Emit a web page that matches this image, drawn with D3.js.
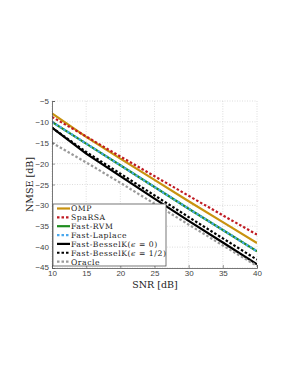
<!DOCTYPE html>
<html><head><meta charset="utf-8">
<script src="https://cdn.jsdelivr.net/npm/d3@7"></script>
<style>body{margin:0;background:#fff}svg{display:block}</style>
</head><body>
<script>
const snr = [10, 15, 20, 25, 30, 35, 40];
const omp = [-8, -13.6, -18.8, -23.9, -29, -34, -39];
const sparsa = [-8.8, -13.5, -18.3, -23, -27.7, -32.4, -37];
const fastRvm = [-10, -15.2, -20.4, -25.6, -30.8, -35.9, -41];
const fastLaplace = [-10, -15.2, -20.4, -25.6, -30.8, -35.9, -41];
const besselK0 = [-11.4, -17.6, -23, -28.4, -33.7, -38.9, -44.1];
const besselKHalf = [-11.4, -17.2, -22.4, -27.6, -32.8, -37.9, -43];
const oracle = [-15, -19.7, -24.6, -29.6, -34.6, -39.6, -44.5];
const xTicks = [10, 15, 20, 25, 30, 35, 40];
const yTicks = [-5, -10, -15, -20, -25, -30, -35, -40, -45];

const series = [
  {name: "OMP", vals: omp, color: "#C8920F", dash: null, w: 2.2},
  {name: "SpaRSA", vals: sparsa, color: "#C01A22", dash: "2.5,2", w: 2.2},
  {name: "Fast-RVM", vals: fastRvm, color: "#1E8C1E", dash: null, w: 2.2},
  {name: "Fast-Laplace", vals: fastLaplace, color: "#4AA8EE", dash: "2.5,2", w: 2.2},
  {name: "Fast-BesselK", eps: "0", vals: besselK0, color: "#000000", dash: null, w: 2.2},
  {name: "Fast-BesselK", eps: "1/2", vals: besselKHalf, color: "#000000", dash: "2.5,2", w: 2.2},
  {name: "Oracle", vals: oracle, color: "#9a9a9a", dash: "2.5,2", w: 2.2}
];

const W = 291, H = 376;
const svg = d3.select("body").append("svg").attr("width", W).attr("height", H);
const L = 52, R = 257, T = 101, B = 268;
const x = d3.scaleLinear().domain([10, 40]).range([L, R]);
const y = d3.scaleLinear().domain([-45, -5]).range([B, T]);

// grid
const g = svg.append("g");
g.selectAll(".gx").data(xTicks).enter().append("line")
  .attr("x1", d => x(d)).attr("x2", d => x(d)).attr("y1", T).attr("y2", B)
  .attr("stroke", "#d4d4d4").attr("stroke-width", 0.8).attr("stroke-dasharray", "1,1.5");
g.selectAll(".gy").data(yTicks).enter().append("line")
  .attr("y1", d => y(d)).attr("y2", d => y(d)).attr("x1", L).attr("x2", R)
  .attr("stroke", "#d4d4d4").attr("stroke-width", 0.8).attr("stroke-dasharray", "1,1.5");

// lines
const line = d3.line().x((d, i) => x(snr[i])).y(d => y(d));
svg.append("clipPath").attr("id", "c").append("rect")
  .attr("x", L).attr("y", T).attr("width", R - L).attr("height", B - T);
const lg = svg.append("g").attr("clip-path", "url(#c)");
series.forEach(s => {
  lg.append("path").attr("d", line(s.vals)).attr("fill", "none")
    .attr("stroke", s.color).attr("stroke-width", s.w)
    .attr("stroke-dasharray", s.dash);
});

// axes
const xAxis = d3.axisBottom(x).tickValues(xTicks).tickSize(-3).tickPadding(2)
  .tickFormat(d3.format("d"));
const yAxis = d3.axisLeft(y).tickValues(yTicks).tickSize(-3).tickPadding(3)
  .tickFormat(d => d < 0 ? "\u2212" + Math.abs(d) : d);
const ax = svg.append("g").attr("transform", `translate(0,${B})`).call(xAxis);
const ay = svg.append("g").attr("transform", `translate(${L},0)`).call(yAxis);
[ax, ay].forEach(a => {
  a.select(".domain").attr("stroke", "#555").attr("stroke-width", 0.8);
  a.selectAll(".tick line").attr("stroke", "#555").attr("stroke-width", 0.6);
  a.selectAll("text").attr("font-family", "Liberation Sans, Arial, sans-serif")
    .attr("font-size", 8).attr("fill", "#444");
});
ay.selectAll(".tick text").filter(d => d === -45).attr("dy", "0.2em");

// axis labels
svg.append("text").attr("x", 155).attr("y", 288).attr("text-anchor", "middle")
  .attr("font-family", "DejaVu Serif, serif").attr("font-size", 9.5).attr("fill", "#222")
  .text("SNR [dB]");
svg.append("text").attr("transform", `translate(33,${(T + B) / 2}) rotate(-90)`)
  .attr("text-anchor", "middle")
  .attr("font-family", "DejaVu Serif, serif").attr("font-size", 9.5).attr("fill", "#222")
  .text("NMSE [dB]");

// legend
const lgX = 53, lgY = 204, lgW = 113, lgH = 62;
const leg = svg.append("g");
leg.append("rect").attr("x", lgX).attr("y", lgY).attr("width", lgW).attr("height", lgH)
  .attr("fill", "#fff").attr("stroke", "#555").attr("stroke-width", 0.8);
const row0 = 208.5, rowStep = 8.85;
series.forEach((s, i) => {
  const yy = row0 + i * rowStep;
  leg.append("line").attr("x1", 57).attr("x2", 70).attr("y1", yy).attr("y2", yy)
    .attr("stroke", s.color).attr("stroke-width", s.w).attr("stroke-dasharray", s.dash);
  const t = leg.append("text").attr("x", 71).attr("y", yy + 2.9)
    .attr("font-family", "DejaVu Serif, serif").attr("font-size", 7.7)
    .attr("letter-spacing", 0.55).attr("fill", "#222");
  t.append("tspan").text(s.name);
  if (s.eps) {
    t.append("tspan").text("(");
    t.append("tspan").attr("font-style", "italic").text("\u03F5");
    t.append("tspan").text(" = " + s.eps + ")");
  }
});
</script>
</body></html>
